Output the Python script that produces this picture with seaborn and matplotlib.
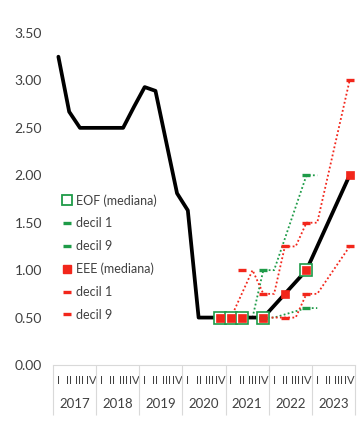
import numpy as np
import matplotlib
matplotlib.use('Agg')
import matplotlib.pyplot as plt
import matplotlib.transforms as mtransforms
from matplotlib.lines import Line2D
import seaborn as sns

# Ejes: trimestres 2017-2023
years = ['2017', '2018', '2019', '2020', '2021', '2022', '2023']
quarter_names = ['I', 'II', 'III', 'IV']
quarters = [f'{y}-{q}' for y in years for q in quarter_names]

# TPM efectiva y trayectoria mediana
tpm_q = quarters[:20] + ['2022-II', '2022-IV', '2023-IV']
tpm_val = [3.25, 2.67, 2.50, 2.50, 2.50, 2.50, 2.50, 2.72, 2.93, 2.89, 2.35, 1.81,
           1.63, 0.50, 0.50, 0.50, 0.50, 0.50, 0.50, 0.50, 0.75, 1.00, 2.00]

# Medianas
eof_q = ['2020-IV', '2021-I', '2021-II', '2021-IV', '2022-IV']
eof_med = [0.50, 0.50, 0.50, 0.50, 1.00]
eee_q = ['2020-IV', '2021-I', '2021-II', '2021-IV', '2022-II', '2022-IV', '2023-IV']
eee_med = [0.50, 0.50, 0.50, 0.50, 0.75, 1.00, 2.00]

# Deciles (marcadores)
eof_d1_q = ['2021-IV', '2022-IV']
eof_d1 = [0.50, 0.60]
eof_d9_q = ['2021-IV', '2022-IV']
eof_d9 = [1.00, 2.00]
eee_d1_q = ['2021-IV', '2022-II', '2022-IV', '2023-IV']
eee_d1 = [0.50, 0.50, 0.75, 1.25]
eee_d9_q = ['2021-II', '2021-IV', '2022-II', '2022-IV', '2023-IV']
eee_d9 = [1.00, 0.75, 1.25, 1.50, 3.00]

# Deciles (lineas punteadas)
eof_d1_path_q = ['2021-IV', '2022-I', '2022-IV', '2023-I']
eof_d1_path = [0.50, 0.50, 0.60, 0.60]
eof_d9_path_q = ['2021-III', '2021-IV', '2022-I', '2022-IV', '2023-I']
eof_d9_path = [0.50, 1.00, 1.00, 2.00, 2.00]
eee_d1_path_q = ['2021-IV', '2022-III', '2022-IV', '2023-I', '2023-IV']
eee_d1_path = [0.50, 0.50, 0.75, 0.75, 1.25]
eee_d9_path_q = ['2021-I', '2021-III', '2021-IV', '2022-I', '2022-II', '2022-III',
                 '2022-IV', '2023-I', '2023-IV']
eee_d9_path = [0.50, 1.00, 0.75, 0.75, 1.25, 1.25, 1.50, 1.50, 3.00]

green = '#1E9B48'
red = '#F2261B'
gray_txt = '#404040'
grid_col = '#D9D9D9'


def pos(labels):
    return [quarters.index(l) for l in labels]


sns.set_theme(style='white')
plt.rcParams['font.family'] = ['Lato', 'DejaVu Sans']

fig = plt.figure(figsize=(3.64, 4.37), dpi=100)
ax = fig.add_axes([53 / 364, 1 - 365 / 437, 302 / 364, 332 / 437])

# lineas punteadas de deciles
for q, v, c in [(eof_d1_path_q, eof_d1_path, green), (eof_d9_path_q, eof_d9_path, green),
                (eee_d1_path_q, eee_d1_path, red), (eee_d9_path_q, eee_d9_path, red)]:
    sns.lineplot(x=pos(q), y=v, color=c, lw=1.3, linestyle=(0, (1, 1.3)), ax=ax, zorder=2)

# TPM
sns.lineplot(x=pos(tpm_q), y=tpm_val, color='black', lw=2.7, ax=ax, zorder=3)

# medianas
sns.lineplot(x=pos(eof_q), y=eof_med, color=green, linestyle='', marker='s', markersize=8.5,
             markerfacecolor='white', markeredgecolor=green, markeredgewidth=1.2, ax=ax, zorder=4)
sns.lineplot(x=pos(eee_q), y=eee_med, color=red, linestyle='', marker='s', markersize=5.5,
             markerfacecolor=red, markeredgecolor=red, markeredgewidth=0.5, ax=ax, zorder=5)

# deciles
for q, v, c in [(eof_d1_q, eof_d1, green), (eof_d9_q, eof_d9, green),
                (eee_d1_q, eee_d1, red), (eee_d9_q, eee_d9, red)]:
    sns.lineplot(x=pos(q), y=v, color=c, linestyle='', marker='_', markersize=6,
                 markeredgecolor=c, markeredgewidth=2.4, ax=ax, zorder=6)

ax.set_xlim(-0.5, len(quarters) - 0.5)
ax.set_ylim(0, 3.5)
ax.set_yticks(np.arange(0, 3.51, 0.5))
ax.set_yticklabels([f'{t:.2f}' for t in np.arange(0, 3.51, 0.5)], fontsize=10, color=gray_txt)
ax.set_xticks(range(len(quarters)))
ax.set_xticklabels(quarter_names * len(years), fontsize=8, color=gray_txt)
ax.set_xticks(np.arange(-0.5, len(quarters), 4), minor=True)
ax.tick_params(axis='y', length=0, pad=8)
ax.tick_params(axis='x', which='major', bottom=False, length=0, pad=7)
ax.tick_params(axis='x', which='minor', bottom=True, length=36, width=0.8,
               color=grid_col, direction='out')
for s in ['top', 'right', 'left']:
    ax.spines[s].set_visible(False)
ax.spines['bottom'].set_color(grid_col)
ax.spines['bottom'].set_linewidth(0.8)
ax.set_xlabel('')
ax.set_ylabel('')

trans = mtransforms.blended_transform_factory(ax.transData, ax.transAxes)
for k, y in enumerate(years):
    ax.text(4 * k + 1.5, -0.118, y, transform=trans, ha='center', va='center',
            fontsize=9.5, color=gray_txt)

handles = [
    Line2D([], [], linestyle='', marker='s', markersize=6.5, markerfacecolor='white',
           markeredgecolor=green, markeredgewidth=1.3),
    Line2D([], [], linestyle='', marker='_', markersize=6, markeredgecolor=green, markeredgewidth=2.4),
    Line2D([], [], linestyle='', marker='_', markersize=6, markeredgecolor=green, markeredgewidth=2.4),
    Line2D([], [], linestyle='', marker='s', markersize=5.5, markerfacecolor=red, markeredgecolor=red),
    Line2D([], [], linestyle='', marker='_', markersize=6, markeredgecolor=red, markeredgewidth=2.4),
    Line2D([], [], linestyle='', marker='_', markersize=6, markeredgecolor=red, markeredgewidth=2.4),
]
labels = ['EOF (mediana)', 'decil 1', 'decil 9', 'EEE (mediana)', 'decil 1', 'decil 9']
fig.legend(handles, labels, loc='upper left', bbox_to_anchor=(62 / 364, 1 - 194 / 437),
           frameon=False, fontsize=9, labelcolor=gray_txt, handlelength=0.8,
           handletextpad=0.3, labelspacing=0.86, borderpad=0, borderaxespad=0)

fig.savefig('out.png', dpi=100)
